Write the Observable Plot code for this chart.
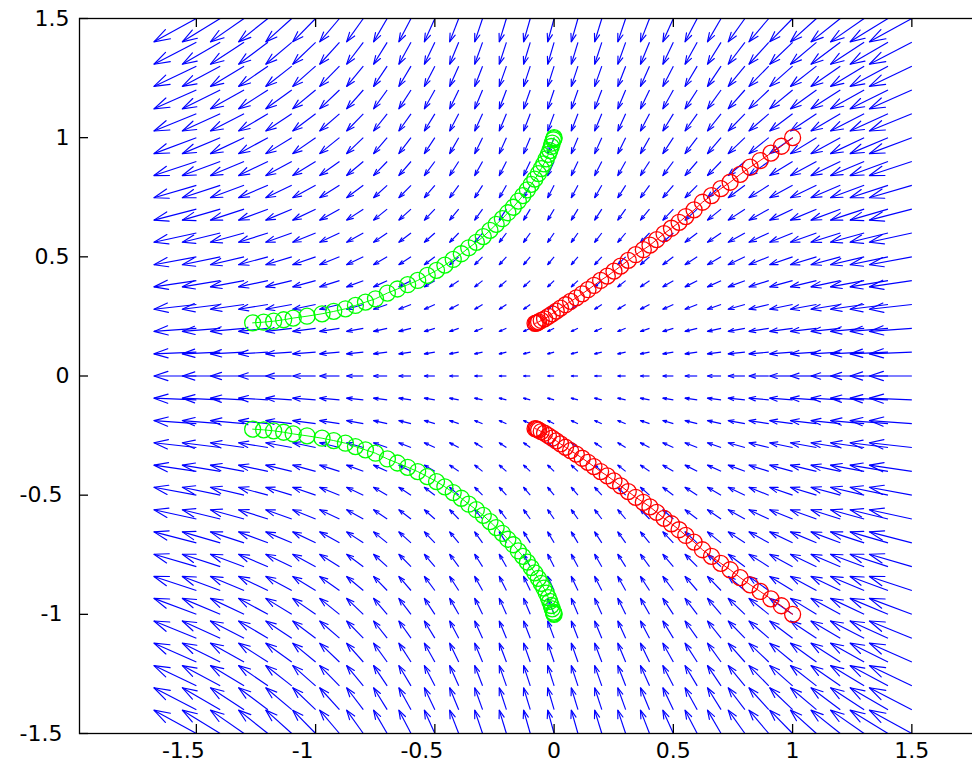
<!DOCTYPE html>
<html><head><meta charset="utf-8">
<script src="https://cdn.jsdelivr.net/npm/d3@7"></script>
<script src="https://cdn.jsdelivr.net/npm/@observablehq/plot@0.6"></script>
<style>html,body{margin:0;padding:0;background:#fff;overflow:hidden;width:972px;height:774px}
#chart{width:972px;height:774px;overflow:hidden}
#chart svg{max-width:none !important;display:block}</style>
</head><body><div id="chart"></div>
<script>
// Tick values
const xTicks = [-1.5, -1, -0.5, 0, 0.5, 1, 1.5];
const yTicks = [-1.5, -1, -0.5, 0, 0.5, 1, 1.5];

// Quiver grid (arrow tails)
const gridX = [-1.5,-1.4,-1.3,-1.2,-1.1,-1,-0.9,-0.8,-0.7,-0.6,-0.5,-0.4,-0.3,-0.2,-0.1,0,0.1,0.2,0.3,0.4,0.5,0.6,0.7,0.8,0.9,1,1.1,1.2,1.3,1.4,1.5];
const gridY = [-1.5,-1.4,-1.3,-1.2,-1.1,-1,-0.9,-0.8,-0.7,-0.6,-0.5,-0.4,-0.3,-0.2,-0.1,0,0.1,0.2,0.3,0.4,0.5,0.6,0.7,0.8,0.9,1,1.1,1.2,1.3,1.4,1.5];
// Horizontal arrow component per column (data units as drawn)
const uAtX = [-0.178,-0.159,-0.141,-0.123,-0.109,-0.096,-0.083,-0.070,-0.057,-0.051,-0.044,-0.038,-0.033,-0.030,-0.028,-0.027,-0.028,-0.030,-0.033,-0.038,-0.044,-0.051,-0.057,-0.070,-0.083,-0.096,-0.109,-0.123,-0.141,-0.159,-0.178];
// Vertical arrow component per row
const vAtY = [0.098,0.092,0.085,0.079,0.072,0.067,0.059,0.052,0.046,0.039,0.033,0.026,0.020,0.013,0.007,0,-0.007,-0.013,-0.020,-0.026,-0.033,-0.039,-0.046,-0.052,-0.059,-0.067,-0.072,-0.079,-0.085,-0.092,-0.098];

// Red trajectories (start at (1, ±1))
const redX = [1.0,0.953,0.909,0.864,0.822,0.780,0.738,0.699,0.660,0.622,0.587,0.552,0.524,0.492,0.461,0.430,0.402,0.374,0.342,0.311,0.279,0.251,0.223,0.195,0.167,0.142,0.118,0.093,0.069,0.048,0.027,0.009,-0.008,-0.024,-0.040,-0.054,-0.065,-0.070,-0.075,-0.080];
const redUpperY = [1.0,0.964,0.935,0.904,0.876,0.846,0.813,0.786,0.757,0.729,0.697,0.669,0.645,0.620,0.597,0.572,0.549,0.530,0.509,0.485,0.461,0.440,0.419,0.401,0.380,0.362,0.345,0.328,0.313,0.299,0.285,0.272,0.261,0.250,0.240,0.233,0.227,0.224,0.222,0.221];
const redLowerY = [-1.0,-0.964,-0.935,-0.904,-0.876,-0.846,-0.813,-0.786,-0.757,-0.729,-0.697,-0.669,-0.645,-0.620,-0.597,-0.572,-0.549,-0.530,-0.509,-0.485,-0.461,-0.440,-0.419,-0.401,-0.380,-0.362,-0.345,-0.328,-0.313,-0.299,-0.285,-0.272,-0.261,-0.250,-0.240,-0.233,-0.227,-0.224,-0.222,-0.221];

// Green trajectories (start at (0, ±1))
const greenX = [0.0,-0.001,-0.003,-0.008,-0.012,-0.018,-0.024,-0.033,-0.043,-0.054,-0.066,-0.081,-0.096,-0.112,-0.131,-0.150,-0.171,-0.194,-0.217,-0.243,-0.269,-0.297,-0.326,-0.358,-0.389,-0.423,-0.458,-0.493,-0.532,-0.572,-0.614,-0.657,-0.699,-0.749,-0.791,-0.833,-0.875,-0.924,-0.973,-1.036,-1.094,-1.134,-1.176,-1.218,-1.264];
const greenUpperY = [1.0,0.996,0.991,0.977,0.963,0.946,0.930,0.911,0.890,0.870,0.849,0.826,0.804,0.781,0.757,0.734,0.708,0.685,0.660,0.636,0.611,0.585,0.561,0.538,0.513,0.489,0.465,0.443,0.422,0.401,0.383,0.365,0.348,0.324,0.310,0.296,0.282,0.271,0.261,0.251,0.243,0.236,0.230,0.226,0.223];
const greenLowerY = [-1.0,-0.996,-0.991,-0.977,-0.963,-0.946,-0.930,-0.911,-0.890,-0.870,-0.849,-0.826,-0.804,-0.781,-0.757,-0.734,-0.708,-0.685,-0.660,-0.636,-0.611,-0.585,-0.561,-0.538,-0.513,-0.489,-0.465,-0.443,-0.422,-0.401,-0.383,-0.365,-0.348,-0.324,-0.310,-0.296,-0.282,-0.271,-0.261,-0.251,-0.243,-0.236,-0.230,-0.226,-0.223];

// Build tables
const arrows = [];
gridY.forEach((y, j) => gridX.forEach((x, i) => arrows.push({x, y, u: uAtX[i], v: vAtY[j]})));
const alpha = 0.33, beta = 0.33;
const heads = [];
arrows.forEach((d, k) => {
  const tx = d.x + d.u, ty = d.y + d.v;
  heads.push({k, hx: tx - alpha * (d.u + beta * d.v), hy: ty - alpha * (d.v - beta * d.u)});
  heads.push({k, hx: tx, hy: ty});
  heads.push({k, hx: tx - alpha * (d.u - beta * d.v), hy: ty - alpha * (d.v + beta * d.u)});
});
const toPts = (xs, ys, g) => xs.map((x, i) => ({x, y: ys[i], g}));
const red = [...toPts(redX, redUpperY, "ru"), ...toPts(redX, redLowerY, "rl")];
const green = [...toPts(greenX, greenUpperY, "gu"), ...toPts(greenX, greenLowerY, "gl")];

const W = 1040, H = 774, mL = 79, mR = 9.4, mT = 18, mB = 41;
const frameW = W - mL - mR, frameH = H - mT - mB, tick = 9;
const xNeg = xTicks.filter(d => d < 0), xNonNeg = xTicks.filter(d => d >= 0);
const yNeg = yTicks.filter(d => d < 0), yNonNeg = yTicks.filter(d => d >= 0);
const fmt = d => String(d);

const chart = Plot.plot({
  width: W, height: H,
  marginLeft: mL, marginRight: mR, marginTop: mT, marginBottom: mB,
  x: {domain: [-1.99, 2], label: null},
  y: {domain: [-1.5, 1.5], label: null},
  style: {fontFamily: "'DejaVu Sans', sans-serif", fontSize: "22px", color: "#000", background: "#fff", maxWidth: "none"},
  marks: [
    Plot.link(arrows, {x1: "x", y1: "y", x2: d => d.x + d.u, y2: d => d.y + d.v, stroke: "#0000ff", strokeWidth: 1.15}),
    Plot.line(heads, {x: "hx", y: "hy", z: "k", stroke: "#0000ff", strokeWidth: 1.15}),
    Plot.line(red, {x: "x", y: "y", z: "g", stroke: "#ff0000", strokeWidth: 1}),
    Plot.dot(red, {x: "x", y: "y", r: 8, stroke: "#ff0000", fill: "none", strokeWidth: 1.3}),
    Plot.line(green, {x: "x", y: "y", z: "g", stroke: "#00ff00", strokeWidth: 1}),
    Plot.dot(green, {x: "x", y: "y", r: 8, stroke: "#00ff00", fill: "none", strokeWidth: 1.3}),
    Plot.frame({stroke: "#000", strokeWidth: 1.3}),
    Plot.tickX(xTicks, {x: d => d, insetTop: frameH - tick, stroke: "#000", strokeWidth: 1.3}),
    Plot.tickX(xTicks, {x: d => d, insetBottom: frameH - tick, stroke: "#000", strokeWidth: 1.3}),
    Plot.tickY(yTicks, {y: d => d, insetRight: frameW - tick, stroke: "#000", strokeWidth: 1.3}),
    Plot.axisX(xNonNeg, {anchor: "bottom", tickSize: 0, tickPadding: 9, tickFormat: fmt, label: null, fontSize: 22}),
    Plot.axisX(xNeg, {anchor: "bottom", tickSize: 0, tickPadding: 9, tickFormat: fmt, label: null, fontSize: 22, dx: -13}),
    Plot.axisY(yNonNeg, {anchor: "left", tickSize: 0, tickPadding: 10, tickFormat: fmt, label: null, fontSize: 22}),
    Plot.axisY(yNeg, {anchor: "left", tickSize: 0, tickPadding: 10, tickFormat: fmt, label: null, fontSize: 22, dx: -7})
  ]
});
document.getElementById("chart").appendChild(chart);
</script>
</body></html>
